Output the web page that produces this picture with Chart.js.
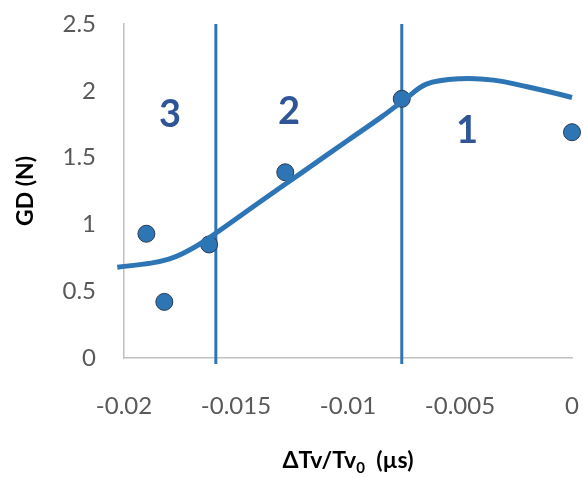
<!DOCTYPE html>
<html>
<head>
<meta charset="utf-8">
<script src="https://cdn.jsdelivr.net/npm/chart.js@4"></script>
<style>
  html, body { margin: 0; padding: 0; background: #fff; }
  #wrap { width: 583px; height: 477px; }
</style>
</head>
<body>
<div id="wrap"><canvas id="chart" width="583" height="477"></canvas></div>
<script>
(function () {
  "use strict";

  // measured points
  var pointX = [-0.0190, -0.0182, -0.0162, -0.0128, -0.0076, 0];
  var pointY = [0.93, 0.42, 0.85, 1.39, 1.94, 1.69];

  // fitted curve as drawn in the figure
  var curveX = [-0.0203, -0.0188, -0.0180, -0.0174, -0.0165, -0.014, -0.012, -0.010, -0.0085, -0.0075, -0.0065, -0.005, -0.0035, -0.002, 0, 0.0003];
  var curveY = [0.68, 0.71, 0.74, 0.78, 0.865, 1.16, 1.395, 1.63, 1.805, 1.93, 2.05, 2.09, 2.08, 2.03, 1.95, 1.93];

  // region boundaries
  var boundaryX = [-0.0159, -0.0076];
  var boundaryY = [2.5, -0.045];

  // region labels
  var regionText = ["3", "2", "1"];
  var regionX = [-0.01795, -0.01263, -0.00469];
  var regionY = [1.82, 1.84, 1.70];

  var xTickLabels = ["-0.02", "-0.015", "-0.01", "-0.005", "0"];
  var yTickLabels = ["0", "0.5", "1", "1.5", "2", "2.5"];

  var blue = "#2E75B6";
  var tickColor = "#595959";
  var axisColor = "#C0C0C0";

  function zip(xs, ys) {
    return xs.map(function (x, i) { return { x: x, y: ys[i] }; });
  }

  function noPad(s) {
    s.paddingTop = 0;
    s.paddingBottom = 0;
    s.paddingLeft = 0;
    s.paddingRight = 0;
  }

  var datasets = [
    {
      label: "curve",
      data: zip(curveX, curveY),
      showLine: true,
      borderColor: blue,
      borderWidth: 5,
      pointRadius: 0,
      tension: 0.35,
      clip: false,
      order: 0
    },
    {
      label: "points",
      data: zip(pointX, pointY),
      backgroundColor: blue,
      borderColor: "#2B3A52",
      borderWidth: 1,
      pointRadius: 8.5,
      clip: false,
      order: 1
    }
  ];
  boundaryX.forEach(function (bx) {
    datasets.push({
      label: "boundary",
      data: boundaryY.map(function (y) { return { x: bx, y: y }; }),
      showLine: true,
      borderColor: blue,
      borderWidth: 3,
      pointRadius: 0,
      clip: false,
      order: 2
    });
  });

  var annotate = {
    id: "annotate",
    afterDatasetsDraw: function (chart) {
      var ctx = chart.ctx;
      var xs = chart.scales.x, ys = chart.scales.y;
      ctx.save();
      ctx.fillStyle = "#2F5597";
      ctx.font = "bold 38px Lato";
      ctx.textAlign = "center";
      ctx.textBaseline = "middle";
      for (var i = 0; i < regionText.length; i++) {
        ctx.fillText(regionText[i], xs.getPixelForValue(regionX[i]), ys.getPixelForValue(regionY[i]));
      }
      ctx.restore();

      // axis titles
      var area = chart.chartArea;
      ctx.save();
      ctx.fillStyle = "#000";
      ctx.textBaseline = "middle";
      var big = "bold 23px Lato", small = "bold 15px Lato";
      var p1 = "\u0394Tv/Tv", p2 = "0", p3 = "  (\u00b5s)";
      ctx.font = big;
      var w1 = ctx.measureText(p1).width, w3 = ctx.measureText(p3).width;
      ctx.font = small;
      var w2 = ctx.measureText(p2).width;
      var total = w1 + w2 + w3;
      var cx = (area.left + area.right) / 2;
      var x0 = cx - total / 2, ty = 461;
      ctx.textAlign = "left";
      ctx.font = big;
      ctx.fillText(p1, x0, ty);
      ctx.font = small;
      ctx.fillText(p2, x0 + w1, ty + 7);
      ctx.font = big;
      ctx.fillText(p3, x0 + w1 + w2, ty);

      ctx.translate(26, (area.top + area.bottom) / 2);
      ctx.rotate(-Math.PI / 2);
      ctx.textAlign = "center";
      ctx.fillText("GD (N)", 0, 0);
      ctx.restore();
    }
  };

  new Chart(document.getElementById("chart"), {
    type: "scatter",
    data: { datasets: datasets },
    plugins: [annotate],
    options: {
      responsive: false,
      animation: false,
      layout: { padding: { top: 24, right: 11, left: 0, bottom: 0 } },
      plugins: { legend: { display: false }, tooltip: { enabled: false } },
      scales: {
        x: {
          type: "linear",
          min: -0.02,
          max: 0,
          grid: { display: false, drawTicks: false },
          border: { display: true, color: axisColor, width: 1.5 },
          afterFit: function (s) { s.height = 119; noPad(s); },
          afterBuildTicks: function (s) {
            s.ticks = xTickLabels.map(function (t) { return { value: parseFloat(t) }; });
          },
          ticks: {
            padding: 34,
            color: tickColor,
            font: { family: "Lato", size: 24 },
            maxRotation: 0,
            callback: function (v, i) { return xTickLabels[i]; }
          }
        },
        y: {
          type: "linear",
          min: 0,
          max: 2.5,
          grid: { display: false, drawTicks: false },
          border: { display: true, color: axisColor, width: 1.5 },
          afterFit: function (s) { s.width = 124; noPad(s); },
          afterBuildTicks: function (s) {
            s.ticks = yTickLabels.map(function (t) { return { value: parseFloat(t) }; });
          },
          ticks: {
            padding: 28,
            color: tickColor,
            font: { family: "Lato", size: 24 },
            callback: function (v, i) { return yTickLabels[i]; }
          }
        }
      }
    }
  });
})();
</script>
</body>
</html>
